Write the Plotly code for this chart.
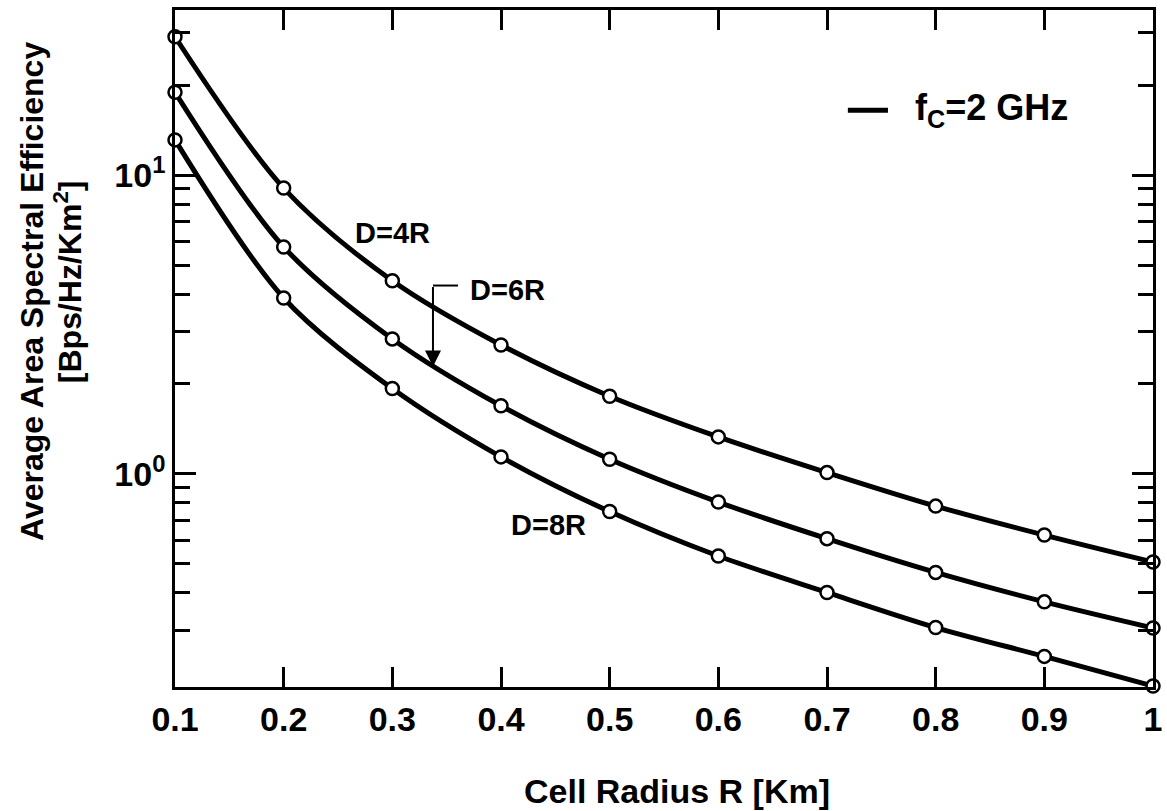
import numpy as np
import plotly.graph_objects as go

# ---- data ----
radius_km = [0.1, 0.2, 0.3, 0.4, 0.5, 0.6, 0.7, 0.8, 0.9, 1.0]
ase_d4r = [29.05, 9.05, 4.43, 2.70, 1.82, 1.33, 1.01, 0.780, 0.624, 0.507]
ase_d6r = [18.94, 5.75, 2.83, 1.69, 1.12, 0.805, 0.607, 0.468, 0.373, 0.305]
ase_d8r = [13.12, 3.88, 1.93, 1.14, 0.748, 0.531, 0.401, 0.306, 0.245, 0.195]
series_names = ["D=4R", "D=6R", "D=8R"]
legend_label = "f<sub>C</sub>=2 GHz"

x_tick_vals = [0.1, 0.2, 0.3, 0.4, 0.5, 0.6, 0.7, 0.8, 0.9, 1.0]
x_tick_text = ["0.1", "0.2", "0.3", "0.4", "0.5", "0.6", "0.7", "0.8", "0.9", "1"]
y_tick_vals = [1, 10]
y_tick_text = ["10<sup>0</sup>", "10<sup>1</sup>"]
y_minor_vals = [0.3, 0.4, 0.5, 0.6, 0.7, 0.8, 0.9, 2, 3, 4, 5, 6, 7, 8, 9, 20, 30]

FONT = "Liberation Sans, Arial, sans-serif"

fig = go.Figure()
for name, vals in zip(series_names, [ase_d4r, ase_d6r, ase_d8r]):
    fig.add_trace(go.Scatter(
        x=radius_km, y=vals, name=name, mode="lines+markers",
        line=dict(color="black", width=5, shape="spline", smoothing=0.9),
        marker=dict(symbol="circle", size=13, color="white",
                    line=dict(color="black", width=2.5)),
        showlegend=False, cliponaxis=False,
    ))

axis_common = dict(
    showline=True, linecolor="black", linewidth=2.5, mirror="ticks",
    ticks="inside", tickcolor="black", tickwidth=3,
    showgrid=False, zeroline=False, automargin=False,
    ticklabeloverflow="allow",
    tickfont=dict(family=FONT, size=34, color="black", weight="bold"),
)

fig.update_xaxes(
    range=[0.1, 1.0], tickvals=x_tick_vals, ticktext=x_tick_text,
    ticklen=20, ticklabelstandoff=0, **axis_common,
)
fig.update_yaxes(
    type="log", range=[np.log10(0.1935), np.log10(35.7)],
    tickvals=y_tick_vals, ticktext=y_tick_text, ticklen=21,
    minor=dict(tickvals=y_minor_vals, ticklen=15, tickwidth=3,
               tickcolor="black", ticks="inside", showgrid=False),
    ticklabelstandoff=0,
    **axis_common,
)

ann_font = dict(family=FONT, size=29, color="black", weight="bold")
annotations = [
    dict(x=0.2997, y=np.log10(6.41), xref="x", yref="y", text="D=4R",
         showarrow=False, font=ann_font, xanchor="center", yanchor="middle"),
    dict(x=0.4064, y=np.log10(4.14), xref="x", yref="y", text="D=6R",
         showarrow=False, font=ann_font, xanchor="center", yanchor="middle"),
    dict(x=0.4433, y=np.log10(0.673), xref="x", yref="y", text="D=8R",
         showarrow=False, font=ann_font, xanchor="center", yanchor="middle"),
    # arrow for D=6R
    dict(x=0.3374, y=np.log10(2.288), xref="x", yref="y",
         ax=0.3374, ay=np.log10(4.27), axref="x", ayref="y", text="",
         showarrow=True, arrowhead=2, arrowsize=1.6, arrowwidth=2,
         arrowcolor="black", standoff=0, startstandoff=0),
    # legend text
    dict(x=0.7546, y=0.852, xref="paper", yref="paper", text=legend_label,
         showarrow=False, xanchor="left", yanchor="middle",
         font=dict(family=FONT, size=36, color="black", weight="bold")),
    # axis titles
    dict(x=0.513, y=-0.153, xref="paper", yref="paper",
         text="Cell Radius R [Km]", showarrow=False,
         xanchor="center", yanchor="middle",
         font=dict(family=FONT, size=34, color="black", weight="bold")),
    dict(x=-0.1462, y=0.5835, xref="paper", yref="paper",
         text="Average Area Spectral Efficiency", textangle=-90,
         showarrow=False, xanchor="center", yanchor="middle",
         font=dict(family=FONT, size=32, color="black", weight="bold")),
    dict(x=-0.1094, y=0.598, xref="paper", yref="paper",
         text="[Bps/Hz/Km<sup>2</sup>]", textangle=-90, showarrow=False,
         xanchor="center", yanchor="middle",
         font=dict(family=FONT, size=32, color="black", weight="bold")),
]

shapes = [
    # elbow of the D=6R pointer
    dict(type="line", xref="x", yref="y", x0=0.3374, x1=0.3604,
         y0=4.27, y1=4.27, line=dict(color="black", width=2)),
    # legend line sample
    dict(type="line", xref="paper", yref="paper", x0=0.688, x1=0.729,
         y0=0.852, y1=0.852, line=dict(color="black", width=5)),
]

fig.update_layout(
    width=1167, height=811,
    margin=dict(l=175, r=14, t=10, b=124),
    paper_bgcolor="white", plot_bgcolor="white",
    showlegend=False,
    annotations=annotations, shapes=shapes,
)

# remove the default 8px page margin so the figure fills the window exactly
fig.write_html("out.html",
               config={"displayModeBar": False},
               post_script="document.body.style.margin='0';"
                           "document.body.style.overflow='hidden';")
